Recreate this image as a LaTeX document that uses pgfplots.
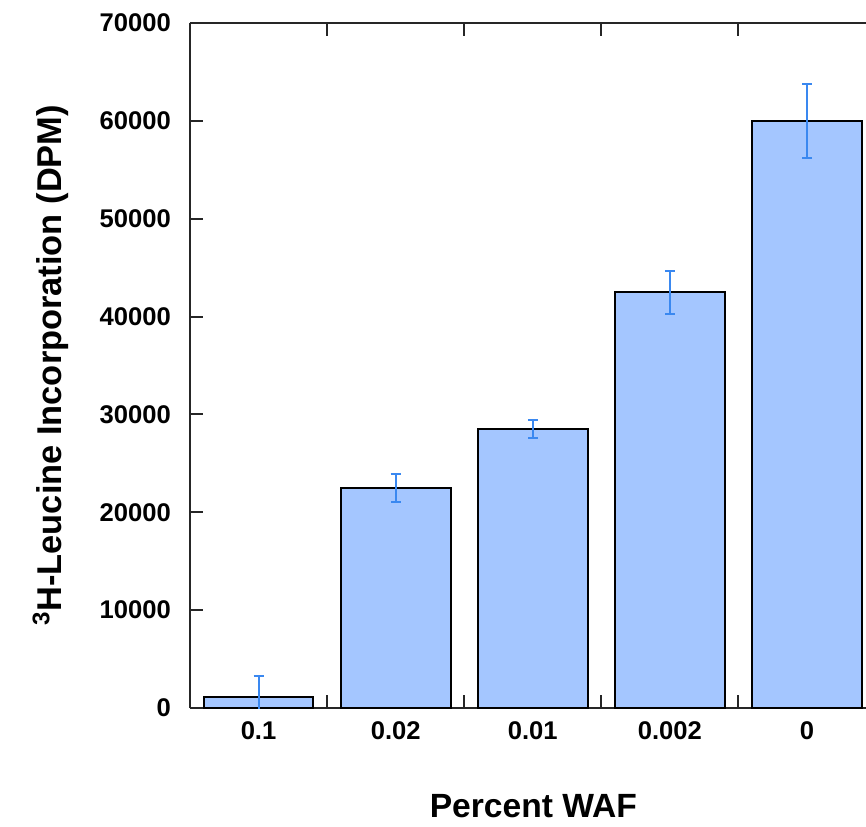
\documentclass[border=0pt]{standalone}
\usepackage{fontspec}
\setmainfont{Liberation Sans}
\usepackage{pgfplots}
\pgfplotsset{compat=1.18}
\definecolor{barfill}{RGB}{164,198,255}
\definecolor{errblue}{RGB}{58,136,240}
\begin{document}
\begin{tikzpicture}
\begin{axis}[
  scale only axis,
  width=338pt, height=342.5pt,
  xmin=-0.5, xmax=4.43,
  ymin=0, ymax=70000,
  axis x line=box, axis y line=left,
  axis line style={-, line width=1pt, black!85},
  ytick={0,10000,...,70000},
  scaled y ticks=false,
  /pgf/number format/1000 sep={},
  /pgf/number format/assume math mode=true,
  xtick={0,1,2,3,4},
  xticklabels={0.1,0.02,0.01,0.002,0},
  minor xtick={0.5,1.5,2.5,3.5},
  major x tick style={draw=none},
  tick align=inside,
  major tick length=6.5pt, minor tick length=6.5pt,
  tick style={line width=1pt, black!85},
  ticklabel style={font=\fontsize{12.8}{15}\selectfont\bfseries},
  yticklabel style={xshift=-6pt},
  xticklabel style={yshift=-3.5pt},
  xlabel={Percent WAF},
  xlabel style={at={(axis description cs:0.508,0)}, anchor=base, yshift=-54.5pt,
    font=\fontsize{16.8}{20}\selectfont\bfseries},
  ylabel={\textsuperscript{3}H-Leucine Incorporation (DPM)},
  ylabel style={at={([xshift=-64pt]axis description cs:0,0.5)}, anchor=base, rotate=0,
    font=\fontsize{17.2}{20}\selectfont\bfseries},
  clip=true,
]
\addplot[ybar, bar width=0.8, bar shift=0pt, fill=barfill, draw=black, line width=1pt,
  error bars/.cd, y dir=both, y explicit,
  error bar style={errblue, line width=1pt},
  error mark options={errblue, line width=1pt, mark size=2.5pt, rotate=90}]
  coordinates {
  (0,1150) +- (0,2100)
  (1,22500) +- (0,1430)
  (2,28550) +- (0,920)
  (3,42500) +- (0,2200)
  (4,60000) +- (0,3780)
  };
\coordinate (O) at (axis description cs:0,0);
\end{axis}
\pgfresetboundingbox
\path (O) ++(-95pt,-59pt) rectangle ++(433pt,413pt);
\end{tikzpicture}
\end{document}
